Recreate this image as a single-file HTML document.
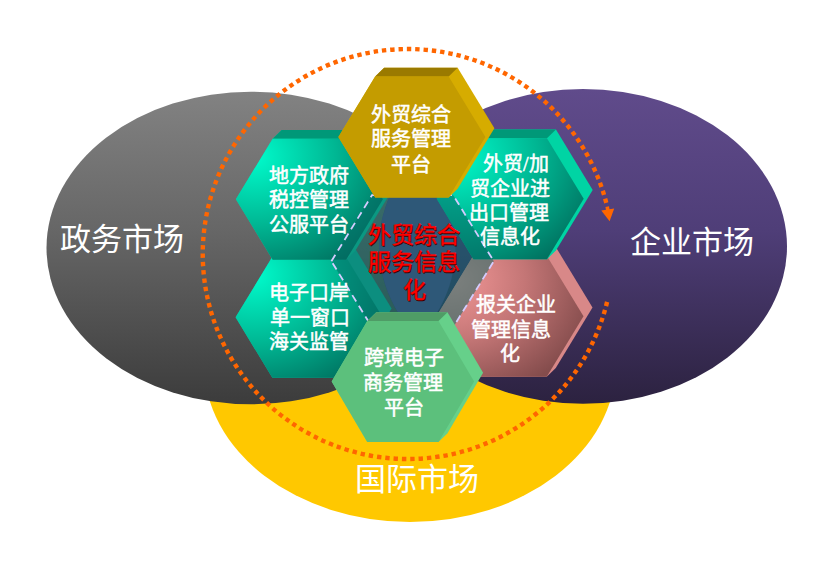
<!DOCTYPE html>
<html lang="zh-CN"><head><meta charset="utf-8"><title>diagram</title>
<style>html,body{margin:0;padding:0;background:#fff;}svg{display:block;}text{font-family:"Liberation Serif",serif;}</style></head>
<body><svg width="822" height="562" viewBox="0 0 822 562">
<defs>
<linearGradient id="gGray" gradientUnits="userSpaceOnUse" x1="0" y1="92" x2="0" y2="403"><stop offset="0" stop-color="#828282"/><stop offset="0.45" stop-color="#666666"/><stop offset="1" stop-color="#3c3c3c"/></linearGradient>
<linearGradient id="gPur" gradientUnits="userSpaceOnUse" x1="0" y1="89" x2="0" y2="402"><stop offset="0" stop-color="#604b8b"/><stop offset="0.45" stop-color="#4f3e78"/><stop offset="1" stop-color="#2c2240"/></linearGradient>
<radialGradient id="gTeal" cx="0.12" cy="0.15" r="1.1" fx="0.12" fy="0.15"><stop offset="0" stop-color="#00fccc"/><stop offset="0.5" stop-color="#00b894"/><stop offset="1" stop-color="#006a5a"/></radialGradient>
<radialGradient id="gPink" cx="0.1" cy="0.2" r="1.0" fx="0.1" fy="0.2"><stop offset="0" stop-color="#f49898"/><stop offset="0.5" stop-color="#c47676"/><stop offset="1" stop-color="#844c4c"/></radialGradient>
<clipPath id="cHex"><polygon points="331.40,261.20 372.00,195.20 453.20,195.20 493.80,261.20 453.20,327.20 372.00,327.20"/></clipPath>
<clipPath id="cGray"><ellipse cx="251" cy="248" rx="204.5" ry="156.3" fill="#000" /></clipPath>
</defs>
<ellipse cx="410" cy="364" rx="206" ry="158" fill="#ffc800" />
<ellipse cx="251" cy="248" rx="204.5" ry="156.3" fill="url(#gGray)" />
<ellipse cx="583" cy="246.4" rx="204" ry="157.4" fill="url(#gPur)" />
<g clip-path="url(#cHex)"><g clip-path="url(#cGray)"><ellipse cx="583" cy="246.4" rx="204" ry="157.4" fill="#58488c" /></g></g>
<polygon points="235.60,317.30 272.35,256.80 281.35,248.10 354.85,248.10 391.60,308.60 354.85,369.10 345.85,377.80 272.35,377.80" fill="#14b49a"/>
<polygon points="272.35,256.80 281.35,248.10 354.85,248.10 345.85,256.80" fill="#009078"/>
<polygon points="235.60,317.30 272.35,256.80 345.85,256.80 382.60,317.30 345.85,377.80 272.35,377.80" fill="url(#gTeal)"/>
<polygon points="436.50,316.20 473.25,255.70 482.25,247.00 555.75,247.00 592.50,307.50 555.75,368.00 546.75,376.70 473.25,376.70" fill="#d88888"/>
<polygon points="473.25,255.70 482.25,247.00 555.75,247.00 546.75,255.70" fill="#a86a6a"/>
<polygon points="436.50,316.20 473.25,255.70 546.75,255.70 583.50,316.20 546.75,376.70 473.25,376.70" fill="url(#gPink)"/>
<polygon points="235.90,199.20 272.65,138.70 281.65,130.00 355.15,130.00 391.90,190.50 355.15,251.00 346.15,259.70 272.65,259.70" fill="#10c8a0"/>
<polygon points="272.65,138.70 281.65,130.00 355.15,130.00 346.15,138.70" fill="#009878"/>
<polygon points="235.90,199.20 272.65,138.70 346.15,138.70 382.90,199.20 346.15,259.70 272.65,259.70" fill="url(#gTeal)"/>
<polygon points="436.70,198.70 473.45,138.20 482.45,129.50 555.95,129.50 592.70,190.00 555.95,250.50 546.95,259.20 473.45,259.20" fill="#00d4a4"/>
<polygon points="473.45,138.20 482.45,129.50 555.95,129.50 546.95,138.20" fill="#009878"/>
<polygon points="436.70,198.70 473.45,138.20 546.95,138.20 583.70,198.70 546.95,259.20 473.45,259.20" fill="url(#gTeal)"/>
<polygon points="331.40,261.20 372.00,195.20 453.20,195.20 493.80,261.20 453.20,327.20 372.00,327.20" fill="#046864" fill-opacity="0.5"/>
<polygon points="331.40,261.20 372.00,195.20 453.20,195.20 493.80,261.20 453.20,327.20 372.00,327.20" fill="none" stroke="#d4ccff" stroke-width="1.8" stroke-dasharray="7.5 5"/>
<polygon points="338.40,137.00 375.15,76.50 384.15,67.80 457.65,67.80 494.40,128.30 457.65,188.80 448.65,197.50 375.15,197.50" fill="#d6ac00"/>
<polygon points="375.15,76.50 384.15,67.80 457.65,67.80 448.65,76.50" fill="#9a7a00"/>
<polygon points="338.40,137.00 375.15,76.50 448.65,76.50 485.40,137.00 448.65,197.50 375.15,197.50" fill="#c49c00"/>
<polygon points="331.70,381.50 367.30,321.00 376.30,312.30 447.50,312.30 483.10,372.80 447.50,433.30 438.50,442.00 367.30,442.00" fill="#66d08a"/>
<polygon points="367.30,321.00 376.30,312.30 447.50,312.30 438.50,321.00" fill="#4f9c66"/>
<polygon points="331.70,381.50 367.30,321.00 438.50,321.00 474.10,381.50 438.50,442.00 367.30,442.00" fill="#5cc07c"/>
<text x="411.0" y="114.5" font-size="20" font-weight="normal" fill="#fff" text-anchor="middle" dominant-baseline="central" stroke="#fff" stroke-width="0.5">外贸综合</text>
<text x="411.0" y="138.8" font-size="20" font-weight="normal" fill="#fff" text-anchor="middle" dominant-baseline="central" stroke="#fff" stroke-width="0.5">服务管理</text>
<text x="411.3" y="164.5" font-size="20" font-weight="normal" fill="#fff" text-anchor="middle" dominant-baseline="central" stroke="#fff" stroke-width="0.5">平台</text>
<text x="309.2" y="175.8" font-size="20" font-weight="normal" fill="#fff" text-anchor="middle" dominant-baseline="central" stroke="#fff" stroke-width="0.5">地方政府</text>
<text x="309.2" y="200.2" font-size="20" font-weight="normal" fill="#fff" text-anchor="middle" dominant-baseline="central" stroke="#fff" stroke-width="0.5">税控管理</text>
<text x="309.2" y="225.2" font-size="20" font-weight="normal" fill="#fff" text-anchor="middle" dominant-baseline="central" stroke="#fff" stroke-width="0.5">公服平台</text>
<text x="515.8" y="163.8" font-size="20" font-weight="normal" fill="#fff" text-anchor="middle" dominant-baseline="central" stroke="#fff" stroke-width="0.5">外贸/加</text>
<text x="509.7" y="188.5" font-size="20" font-weight="normal" fill="#fff" text-anchor="middle" dominant-baseline="central" stroke="#fff" stroke-width="0.5">贸企业进</text>
<text x="508.7" y="213.2" font-size="20" font-weight="normal" fill="#fff" text-anchor="middle" dominant-baseline="central" stroke="#fff" stroke-width="0.5">出口管理</text>
<text x="510.0" y="237.0" font-size="20" font-weight="normal" fill="#fff" text-anchor="middle" dominant-baseline="central" stroke="#fff" stroke-width="0.5">信息化</text>
<text x="309.0" y="293.3" font-size="20" font-weight="normal" fill="#fff" text-anchor="middle" dominant-baseline="central" stroke="#fff" stroke-width="0.5">电子口岸</text>
<text x="310.0" y="317.5" font-size="20" font-weight="normal" fill="#fff" text-anchor="middle" dominant-baseline="central" stroke="#fff" stroke-width="0.5">单一窗口</text>
<text x="309.2" y="341.7" font-size="20" font-weight="normal" fill="#fff" text-anchor="middle" dominant-baseline="central" stroke="#fff" stroke-width="0.5">海关监管</text>
<text x="515.5" y="305.2" font-size="20" font-weight="normal" fill="#fff" text-anchor="middle" dominant-baseline="central" stroke="#fff" stroke-width="0.5">报关企业</text>
<text x="510.5" y="330.2" font-size="20" font-weight="normal" fill="#fff" text-anchor="middle" dominant-baseline="central" stroke="#fff" stroke-width="0.5">管理信息</text>
<text x="509.5" y="354.0" font-size="20" font-weight="normal" fill="#fff" text-anchor="middle" dominant-baseline="central" stroke="#fff" stroke-width="0.5">化</text>
<text x="403.5" y="357.7" font-size="20" font-weight="normal" fill="#fff" text-anchor="middle" dominant-baseline="central" stroke="#fff" stroke-width="0.5">跨境电子</text>
<text x="403.2" y="383.0" font-size="20" font-weight="normal" fill="#fff" text-anchor="middle" dominant-baseline="central" stroke="#fff" stroke-width="0.5">商务管理</text>
<text x="403.7" y="407.5" font-size="20" font-weight="normal" fill="#fff" text-anchor="middle" dominant-baseline="central" stroke="#fff" stroke-width="0.5">平台</text>
<text x="415.0" y="236.0" font-size="23" font-weight="normal" fill="#3a0000" stroke="#3a0000" stroke-width="0.3" text-anchor="middle" dominant-baseline="central">外贸综合</text>
<text x="414.0" y="235.0" font-size="23" font-weight="normal" fill="#ff0000" text-anchor="middle" dominant-baseline="central" stroke="#ff0000" stroke-width="0.3">外贸综合</text>
<text x="415.0" y="263.0" font-size="23" font-weight="normal" fill="#3a0000" stroke="#3a0000" stroke-width="0.3" text-anchor="middle" dominant-baseline="central">服务信息</text>
<text x="414.0" y="262.0" font-size="23" font-weight="normal" fill="#ff0000" text-anchor="middle" dominant-baseline="central" stroke="#ff0000" stroke-width="0.3">服务信息</text>
<text x="415.0" y="291.0" font-size="23" font-weight="normal" fill="#3a0000" stroke="#3a0000" stroke-width="0.3" text-anchor="middle" dominant-baseline="central">化</text>
<text x="414.0" y="290.0" font-size="23" font-weight="normal" fill="#ff0000" text-anchor="middle" dominant-baseline="central" stroke="#ff0000" stroke-width="0.3">化</text>
<text x="122.0" y="239.5" font-size="31" font-weight="normal" fill="#fff" text-anchor="middle" dominant-baseline="central" >政务市场</text>
<text x="692.0" y="242.2" font-size="31" font-weight="normal" fill="#fff" text-anchor="middle" dominant-baseline="central" >企业市场</text>
<text x="416.7" y="479.0" font-size="31" font-weight="normal" fill="#fff" text-anchor="middle" dominant-baseline="central" >国际市场</text>
<path d="M606.26,202.85 A205,205 0 1 0 607.58,299.77" fill="none" stroke="#ff6600" stroke-width="4.4" stroke-dasharray="4.4 3.93"/>
<path d="M607.2,206.6 L607.9,210.5" stroke="#ff6600" stroke-width="3.6" fill="none"/>
<polygon points="601.3,210.6 614.2,208.4 609.6,221.3" fill="#ff6600"/>
</svg></body></html>
